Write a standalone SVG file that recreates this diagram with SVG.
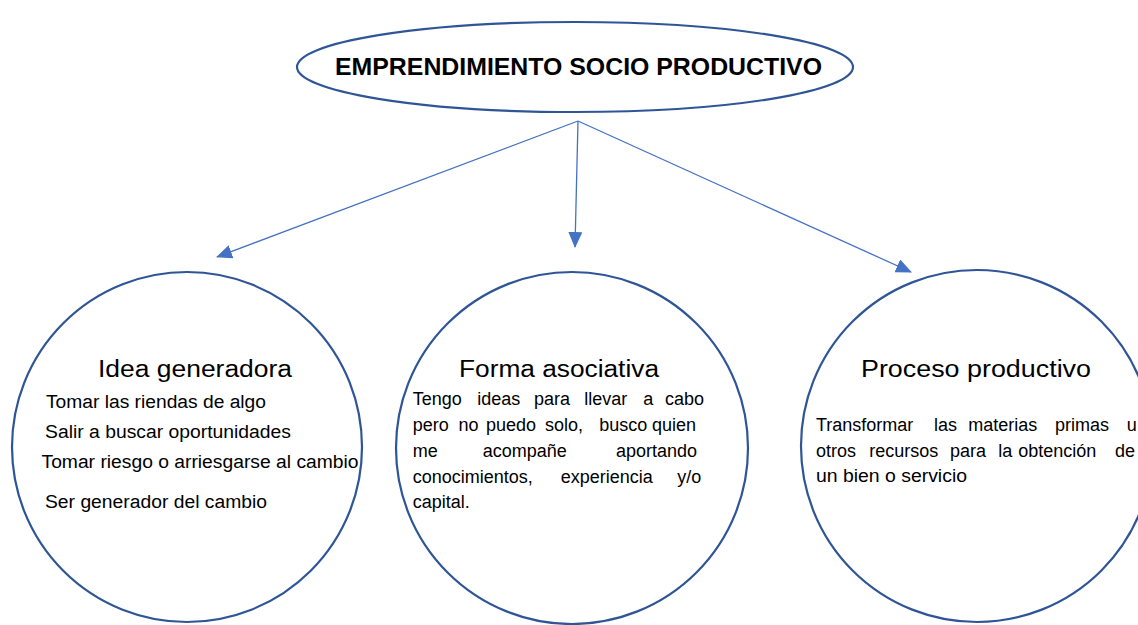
<svg xmlns="http://www.w3.org/2000/svg" width="1138" height="625" viewBox="0 0 1138 625">
<style>
.shape{fill:#fff;stroke:#2F5597;stroke-width:2.2}
.conn{stroke:#4472C4;stroke-width:1.3;fill:none}
.t{font-family:"Liberation Sans",Arial,sans-serif;fill:#000}
.title{font-size:23px;font-weight:bold}
.head{font-size:23px}
.body{font-size:18px}
</style>
<defs>
<marker id="ah" markerUnits="userSpaceOnUse" markerWidth="16" markerHeight="14" refX="15" refY="7" orient="auto">
<path d="M0,0 L16,7 L0,14 z" fill="#4472C4"/>
</marker>
</defs>
<rect width="1138" height="625" fill="#fff"/>
<g id="connectors">
<line class="conn" x1="578" y1="121" x2="217" y2="257" marker-end="url(#ah)"/>
<line class="conn" x1="578" y1="121" x2="575" y2="247" marker-end="url(#ah)"/>
<line class="conn" x1="578" y1="121" x2="911" y2="272" marker-end="url(#ah)"/>
</g>
<g id="node-root">
<ellipse class="shape" cx="575" cy="67" rx="278" ry="45"/>
<text class="t title" x="335" y="75" textLength="487" lengthAdjust="spacingAndGlyphs">EMPRENDIMIENTO SOCIO PRODUCTIVO</text>
</g>
<g id="node-idea">
<circle class="shape" cx="187" cy="447" r="175"/>
<text class="t head" x="98" y="377" textLength="194" lengthAdjust="spacingAndGlyphs">Idea generadora</text>
<text class="t body" x="46" y="408" textLength="220" lengthAdjust="spacingAndGlyphs">Tomar las riendas de algo</text>
<text class="t body" x="45" y="438" textLength="246" lengthAdjust="spacingAndGlyphs">Salir a buscar oportunidades</text>
<text class="t body" x="41.5" y="468" textLength="317" lengthAdjust="spacingAndGlyphs">Tomar riesgo o arriesgarse al cambio</text>
<text class="t body" x="45" y="508" textLength="222" lengthAdjust="spacingAndGlyphs">Ser generador del cambio</text>
</g>
<g id="node-forma">
<circle class="shape" cx="572" cy="448" r="176"/>
<text class="t head" x="459" y="377" textLength="200" lengthAdjust="spacingAndGlyphs">Forma asociativa</text>
<text class="t body" y="405"><tspan x="412.7">Tengo</tspan><tspan x="477.3">ideas</tspan><tspan x="534">para</tspan><tspan x="584.3">llevar</tspan><tspan x="643.3">a</tspan><tspan x="665">cabo</tspan></text>
<text class="t body" y="431"><tspan x="412.7">pero</tspan><tspan x="458.5">no</tspan><tspan x="486">puedo</tspan><tspan x="545">solo,</tspan><tspan x="599.3">busco</tspan><tspan x="652">quien</tspan></text>
<text class="t body" y="457"><tspan x="412.7">me</tspan><tspan x="482.7">acompañe</tspan><tspan x="616">aportando</tspan></text>
<text class="t body" y="483"><tspan x="412.7">conocimientos,</tspan><tspan x="560.7">experiencia</tspan><tspan x="677.3">y/o</tspan></text>
<text class="t body" x="412.7" y="508">capital.</text>
</g>
<g id="node-proceso">
<circle class="shape" cx="977" cy="446" r="176"/>
<text class="t head" x="861" y="377" textLength="230" lengthAdjust="spacingAndGlyphs">Proceso productivo</text>
<text class="t body" y="431"><tspan x="816">Transformar</tspan><tspan x="934">las</tspan><tspan x="968.3">materias</tspan><tspan x="1055">primas</tspan><tspan x="1126.7">u</tspan></text>
<text class="t body" y="457"><tspan x="816">otros</tspan><tspan x="869.3">recursos</tspan><tspan x="950">para</tspan><tspan x="998.3">la</tspan><tspan x="1018.3">obtención</tspan><tspan x="1115">de</tspan></text>
<text class="t body" x="816" y="482" textLength="151" lengthAdjust="spacingAndGlyphs">un bien o servicio</text>
</g>
</svg>
